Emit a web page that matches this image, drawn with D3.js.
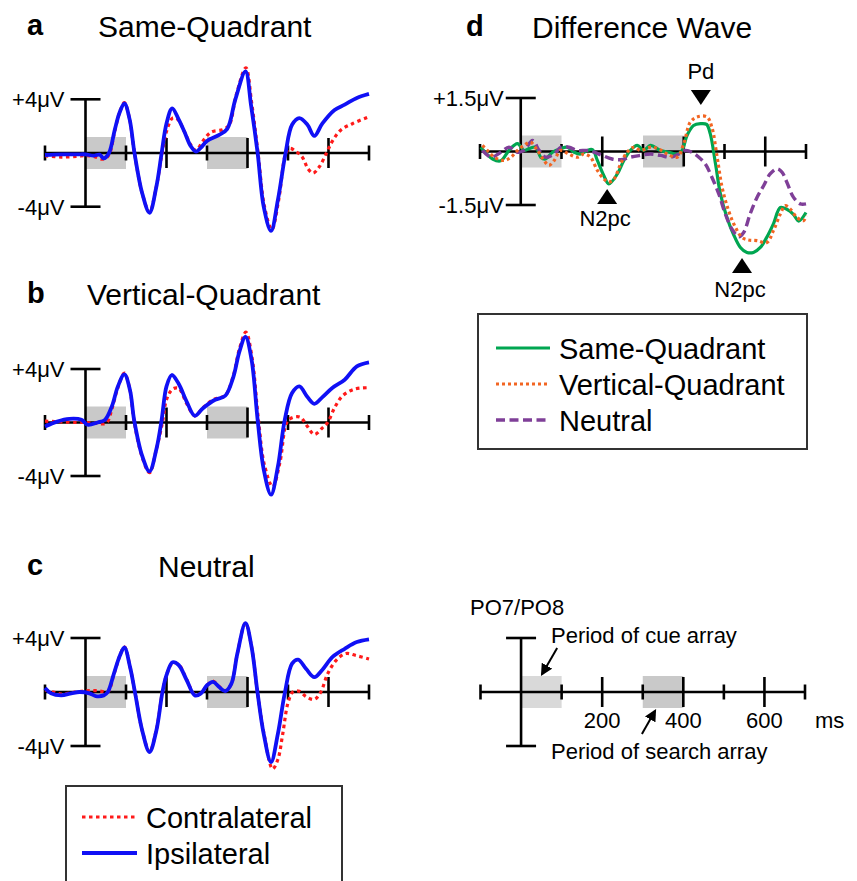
<!DOCTYPE html>
<html>
<head>
<meta charset="utf-8">
<script src="https://cdn.jsdelivr.net/npm/d3@7"></script>
<style>
  body { margin: 0; background: #fff; }
  svg { display: block; font-family: "Liberation Sans", Arial, sans-serif; }
</style>
</head>
<body>
<svg id="chart" width="857" height="881"></svg>
<script>
// time axis (ms) and windows
var msTicks = [-100, 0, 100, 200, 300, 400, 500, 600, 700];
var bigTicks = [200, 400, 600];
var tickLabels = ["200", "400", "600"];
var cueWindow = [0, 100];
var searchWindow = [300, 400];

// [ms, microvolts]
var aContra = [[-100,-0.2],[-60,-0.3],[-20,-0.25],[0,-0.2],[20,-0.25],[40,-0.45],[50,-0.4],[60,0],[72,1.6],[84,3.0],[96,3.75],[109,2.5],[121,0],[140,-3.0],[158,-4.4],[175,-2.5],[188,-0.2],[200,1.6],[215,2.6],[228,2.5],[244,1.6],[260,0.6],[273,0.2],[290,0.9],[310,1.55],[340,1.75],[355,2.1],[372,4.3],[396,6.35],[410,3.8],[426,0],[442,-4.0],[460,-5.7],[477,-3.5],[495,0],[505,0.35],[520,0.1],[535,-0.3],[550,-1.2],[562,-1.5],[578,-1.0],[595,0],[610,0.9],[630,1.7],[660,2.2],[700,2.7]];
var aIpsi = [[-100,-0.15],[-60,-0.1],[-20,-0.1],[0,-0.1],[20,-0.2],[35,-0.12],[45,-0.4],[58,0],[72,1.7],[84,3.0],[96,3.7],[109,2.5],[121,0],[140,-3.0],[158,-4.45],[175,-2.5],[188,0],[200,2.2],[214,3.33],[230,2.5],[244,1.6],[260,0.5],[273,0.1],[285,0.4],[300,0.9],[330,1.35],[350,1.8],[370,4.0],[395,6.07],[409,3.5],[425,0],[440,-4.0],[458,-5.8],[475,-3.5],[494,0],[510,2.1],[528,2.6],[548,2.1],[565,1.27],[585,2.2],[615,3.2],[640,3.6],[670,4.1],[700,4.4]];

var bContra = [[-100,0.1],[-60,0.05],[-20,0],[0,0],[25,-0.05],[45,-0.1],[55,0.1],[65,1.0],[80,2.6],[96,3.7],[110,2.4],[120,0.1],[140,-2.6],[158,-3.75],[175,-2.0],[190,0],[200,1.7],[215,2.5],[230,2.55],[250,1.4],[270,0.5],[290,1.1],[315,1.7],[330,1.85],[345,2.0],[365,3.5],[380,5.5],[396,6.75],[411,4.9],[427,0.2],[442,-3.2],[462,-4.8],[480,-3.0],[497,0],[510,0.35],[530,0.4],[548,-0.3],[565,-0.9],[585,-0.4],[598,0],[615,1.1],[635,2.0],[665,2.5],[700,2.6]];
var bIpsi = [[-100,-0.3],[-70,0.07],[-40,0.27],[-10,0.2],[5,-0.17],[30,0],[48,0.2],[65,1.2],[80,2.7],[96,3.6],[110,2.4],[120,0.2],[140,-2.5],[158,-3.65],[175,-2.0],[188,0.2],[200,2.7],[213,3.55],[230,2.9],[250,1.55],[270,0.5],[290,1.07],[320,1.7],[345,2.0],[365,3.4],[380,5.3],[395,6.4],[410,4.7],[425,0.2],[440,-3.5],[458,-5.4],[475,-3.3],[492,0.2],[510,2.2],[528,2.7],[548,1.9],[565,1.4],[585,1.9],[610,2.6],[640,3.2],[670,4.2],[700,4.5]];

var cContra = [[-100,0.15],[-80,0],[-60,-0.15],[-35,-0.05],[-10,0.05],[10,0.1],[25,0.1],[40,0.05],[55,0],[70,1.3],[85,2.7],[96,3.35],[110,1.85],[122,0],[140,-2.85],[158,-4.4],[175,-2.8],[190,0],[200,1.25],[215,2.15],[230,2.05],[250,0.9],[270,-0.2],[285,-0.1],[300,0.5],[315,0.8],[330,0.4],[345,0.1],[360,0.6],[375,2.85],[395,5.1],[410,3.35],[425,-0.1],[442,-3.3],[462,-5.7],[475,-5.0],[487,-3.1],[500,-0.8],[512,0],[528,0.05],[545,-0.35],[565,-0.55],[581,0],[598,1.35],[619,2.35],[643,2.85],[668,2.7],[700,2.45]];
var cIpsi = [[-100,0.3],[-85,-0.1],[-60,-0.25],[-35,-0.1],[-15,0],[10,-0.1],[25,-0.3],[45,-0.25],[55,0],[70,1.35],[85,2.7],[96,3.3],[110,1.85],[122,0],[140,-2.85],[158,-4.45],[175,-2.85],[190,0],[200,1.25],[215,2.2],[230,2.0],[250,0.87],[270,-0.25],[285,-0.1],[300,0.5],[315,0.75],[330,0.37],[345,0.07],[360,0.6],[375,2.85],[395,5.1],[410,3.35],[425,-0.1],[440,-3.1],[458,-5.2],[475,-3.1],[492,-0.1],[510,2.1],[525,2.4],[545,1.7],[565,1.1],[585,1.65],[610,2.6],[640,3.2],[670,3.7],[700,3.9]];

var dSame = [[-98,0.12],[-69,-0.21],[-49,-0.26],[-29,0.03],[-8,0.22],[8,0.03],[20,0.08],[37,0.12],[49,-0.16],[61,-0.21],[78,-0.02],[98,0.08],[114,0.12],[131,-0.02],[147,-0.07],[163,0.03],[176,0.05],[188,-0.25],[204,-0.68],[216,-0.91],[237,-0.63],[253,-0.25],[269,0.03],[286,0.17],[302,0.03],[318,0.17],[343,0.03],[363,-0.02],[384,-0.07],[396,0.03],[408,0.45],[424,0.73],[441,0.78],[456,0.76],[465,0.5],[478,-0.35],[490,-1.19],[506,-1.85],[522,-2.32],[539,-2.69],[555,-2.83],[571,-2.83],[588,-2.69],[604,-2.4],[620,-2.03],[637,-1.57],[653,-1.62],[669,-1.76],[682,-1.95],[700,-1.71]];
var dVertical = [[-94,0.17],[-82,0.03],[-65,-0.16],[-41,-0.25],[-24,-0.16],[-8,0.03],[8,0.17],[24,0.26],[41,0.03],[57,-0.25],[69,-0.39],[82,-0.25],[98,0.03],[118,-0.07],[139,-0.16],[155,-0.07],[171,-0.16],[188,-0.53],[204,-0.77],[216,-0.86],[229,-0.77],[245,-0.35],[261,-0.02],[278,0.12],[294,0.03],[318,0.12],[339,0.07],[359,-0.07],[384,-0.16],[400,0.22],[416,0.82],[433,0.97],[457,0.97],[469,0.68],[482,-0.16],[494,-1.0],[510,-1.66],[527,-2.13],[543,-2.41],[559,-2.48],[580,-2.5],[604,-2.55],[620,-2.22],[637,-1.75],[649,-1.52],[661,-1.61],[678,-1.85],[694,-1.94],[700,-1.8]];
var dNeutral = [[-94,0.03],[-73,-0.16],[-49,-0.02],[-29,0.12],[-8,-0.02],[8,0.03],[29,0.31],[45,0.03],[61,-0.16],[82,-0.07],[98,0.12],[118,0.12],[139,0.03],[163,0.03],[180,-0.02],[200,-0.11],[224,-0.21],[245,-0.23],[269,-0.16],[294,-0.11],[318,-0.07],[343,-0.11],[367,-0.16],[388,-0.07],[404,0.03],[420,-0.02],[437,-0.16],[453,-0.35],[469,-0.72],[486,-1.19],[502,-1.75],[518,-2.17],[535,-2.39],[547,-2.27],[563,-1.75],[580,-1.28],[596,-0.96],[612,-0.63],[629,-0.49],[641,-0.58],[653,-0.86],[669,-1.28],[686,-1.47],[700,-1.47]];

// component markers on the difference wave (ms)
var pdTime = 442;
var n2pcTimes = [212, 543];

var svg = d3.select("#chart");

var styles = {
  contra: {color: "#ff1a1a", width: 3.2, dash: "3.5,3.5"},
  ipsi:   {color: "#1010f5", width: 3.8, dash: null},
  same:   {color: "#00a651", width: 3.2, dash: null},
  vert:   {color: "#f26522", width: 3.2, dash: "3,3"},
  neut:   {color: "#7f3f98", width: 3.4, dash: "9,4.5"}
};

function buildAxes(cfg) {
  var g = svg.append("g");
  var x = d3.scaleLinear().domain([-100, 700]).range([cfg.x0, cfg.x1]);
  var y = d3.scaleLinear().domain([-cfg.vmax, cfg.vmax]).range([cfg.yBot, cfg.yTop]);

  // gray windows
  g.selectAll("rect.win")
    .data([cueWindow, searchWindow])
    .enter().append("rect")
      .attr("class", "win")
      .attr("x", function(d){ return x(d[0]); })
      .attr("width", function(d){ return x(d[1]) - x(d[0]); })
      .attr("y", y(0) - 16)
      .attr("height", 32)
      .attr("fill", function(d, i){ return cfg.fills[i]; });

  // time axis
  g.append("line")
    .attr("x1", x(-100)).attr("x2", x(700))
    .attr("y1", y(0)).attr("y2", y(0))
    .attr("stroke", "#000").attr("stroke-width", 2.6);

  g.selectAll("line.tick")
    .data(msTicks.filter(function(t){ return t !== 0; }))
    .enter().append("line")
      .attr("class", "tick")
      .attr("x1", function(d){ return x(d); })
      .attr("x2", function(d){ return x(d); })
      .attr("y1", function(d){ return y(0) - (bigTicks.indexOf(d) >= 0 ? 15 : 7.5); })
      .attr("y2", function(d){ return y(0) + (bigTicks.indexOf(d) >= 0 ? 15 : 7.5); })
      .attr("stroke", "#000").attr("stroke-width", 2.6);

  // voltage bar
  g.append("line")
    .attr("x1", x(0)).attr("x2", x(0))
    .attr("y1", y(cfg.vmax)).attr("y2", y(-cfg.vmax))
    .attr("stroke", "#000").attr("stroke-width", 2.6);
  [cfg.vmax, -cfg.vmax].forEach(function(v){
    g.append("line")
      .attr("x1", x(0) - 15).attr("x2", x(0) + 15)
      .attr("y1", y(v)).attr("y2", y(v))
      .attr("stroke", "#000").attr("stroke-width", 2.6);
  });

  if (cfg.labels) {
    g.selectAll("text.vlab")
      .data([[cfg.vmax, cfg.labels[0]], [-cfg.vmax, cfg.labels[1]]])
      .enter().append("text")
        .attr("x", x(0) - cfg.labelGap)
        .attr("y", function(d){ return y(d[0]) + 8; })
        .attr("text-anchor", "end")
        .attr("font-size", 22)
        .text(function(d){ return d[1]; });
  }
  return {g: g, x: x, y: y};
}

function drawWave(ax, data, st) {
  var line = d3.line()
    .x(function(d){ return ax.x(d[0]); })
    .y(function(d){ return ax.y(d[1]); })
    .curve(d3.curveCatmullRom.alpha(0.5));
  ax.g.append("path")
    .datum(data)
    .attr("d", line)
    .attr("fill", "none")
    .attr("stroke", st.color)
    .attr("stroke-width", st.width)
    .attr("stroke-linejoin", "round")
    .attr("stroke-dasharray", st.dash);
}

function title(letter, name, lx, nx, by) {
  svg.append("text").attr("x", lx).attr("y", by - 2)
    .attr("font-size", 29).attr("font-weight", "bold").text(letter);
  svg.append("text").attr("x", nx).attr("y", by)
    .attr("font-size", 30).text(name);
}

title("a", "Same-Quadrant", 27, 98, 37);
title("b", "Vertical-Quadrant", 27, 87, 305);
title("c", "Neutral", 27, 158, 577);
title("d", "Difference Wave", 466, 532, 38);

var grayFills = ["#c9c9c9", "#c9c9c9"];
var panelA = buildAxes({x0: 45, x1: 369, yTop: 99.3, yBot: 206.7, vmax: 4, fills: grayFills, labels: ["+4\u03bcV", "-4\u03bcV"], labelGap: 21});
drawWave(panelA, aContra, styles.contra);
drawWave(panelA, aIpsi, styles.ipsi);

var panelB = buildAxes({x0: 45, x1: 369, yTop: 369, yBot: 476, vmax: 4, fills: grayFills, labels: ["+4\u03bcV", "-4\u03bcV"], labelGap: 21});
drawWave(panelB, bContra, styles.contra);
drawWave(panelB, bIpsi, styles.ipsi);

var panelC = buildAxes({x0: 45, x1: 369, yTop: 638, yBot: 746, vmax: 4, fills: grayFills, labels: ["+4\u03bcV", "-4\u03bcV"], labelGap: 21});
drawWave(panelC, cContra, styles.contra);
drawWave(panelC, cIpsi, styles.ipsi);

var panelD = buildAxes({x0: 480, x1: 806, yTop: 98, yBot: 205, vmax: 1.5, fills: ["#d0d0d0", "#c9c9c9"], labels: ["+1.5\u03bcV", "-1.5\u03bcV"], labelGap: 17});
drawWave(panelD, dSame, styles.same);
drawWave(panelD, dNeutral, styles.neut);
drawWave(panelD, dVertical, styles.vert);

// Pd / N2pc markers
function triangle(cx, tipY, down) {
  var h = 15, w = 10;
  var baseY = down ? tipY - h : tipY + h;
  return "M" + (cx - w) + "," + baseY + "L" + (cx + w) + "," + baseY + "L" + cx + "," + tipY + "Z";
}
var pdX = panelD.x(pdTime);
svg.append("path").attr("d", triangle(pdX, 105, true)).attr("fill", "#000");
svg.append("text").attr("x", pdX).attr("y", 79).attr("text-anchor", "middle")
  .attr("font-size", 22).text("Pd");
[[n2pcTimes[0], 189, 226], [n2pcTimes[1], 258, 297]].forEach(function(m){
  var cx = panelD.x(m[0]);
  svg.append("path").attr("d", triangle(cx, m[1], false)).attr("fill", "#000");
  svg.append("text").attr("x", cx - 2).attr("y", m[2]).attr("text-anchor", "middle")
    .attr("font-size", 22).text("N2pc");
});

// schematic axis
var panelS = buildAxes({x0: 480.5, x1: 805, yTop: 638, yBot: 746, vmax: 4, fills: ["#d9d9d9", "#c9c9c9"], labels: null});
panelS.g.selectAll("text.tl")
  .data(bigTicks)
  .enter().append("text")
    .attr("x", function(d){ return panelS.x(d); })
    .attr("y", 728)
    .attr("text-anchor", "middle")
    .attr("font-size", 22)
    .text(function(d, i){ return tickLabels[i]; });
svg.append("text").attr("x", 815).attr("y", 728).attr("font-size", 22).text("ms");
svg.append("text").attr("x", 470).attr("y", 615).attr("font-size", 22).text("PO7/PO8");
svg.append("text").attr("x", 551).attr("y", 643).attr("font-size", 22).text("Period of cue array");
svg.append("text").attr("x", 551).attr("y", 759).attr("font-size", 22).text("Period of search array");

svg.append("defs").append("marker")
    .attr("id", "head")
    .attr("viewBox", "0 -5 10 10")
    .attr("refX", 8).attr("refY", 0)
    .attr("markerWidth", 12).attr("markerHeight", 12)
    .attr("markerUnits", "userSpaceOnUse")
    .attr("orient", "auto")
  .append("path").attr("d", "M0,-5L10,0L0,5Z").attr("fill", "#000");

var s0 = panelS.y(0);
var cueTip = [panelS.x(52), s0 - 18], searchTip = [panelS.x(330), s0 + 19];
svg.append("line")
  .attr("x1", cueTip[0] + 15).attr("y1", cueTip[1] - 26)
  .attr("x2", cueTip[0]).attr("y2", cueTip[1])
  .attr("stroke", "#000").attr("stroke-width", 2).attr("marker-end", "url(#head)");
svg.append("line")
  .attr("x1", searchTip[0] - 13).attr("y1", searchTip[1] + 23)
  .attr("x2", searchTip[0]).attr("y2", searchTip[1])
  .attr("stroke", "#000").attr("stroke-width", 2).attr("marker-end", "url(#head)");

// legends
function legend(x0, y0, w, h, items, lineX, textX, firstBase, step) {
  svg.append("rect").attr("x", x0).attr("y", y0).attr("width", w).attr("height", h)
    .attr("fill", "none").attr("stroke", "#333").attr("stroke-width", 2);
  items.forEach(function(it, i){
    var by = firstBase + i * step;
    svg.append("line")
      .attr("x1", lineX[0]).attr("x2", lineX[1])
      .attr("y1", by - 11).attr("y2", by - 11)
      .attr("stroke", it.st.color).attr("stroke-width", it.st.width)
      .attr("stroke-dasharray", it.st.dash);
    svg.append("text").attr("x", textX).attr("y", by).attr("font-size", 29).text(it.name);
  });
}
legend(478, 314, 329, 135,
  [{name: "Same-Quadrant", st: styles.same}, {name: "Vertical-Quadrant", st: styles.vert}, {name: "Neutral", st: styles.neut}],
  [496, 550], 559, 359, 36);
legend(66, 786, 276, 120,
  [{name: "Contralateral", st: styles.contra}, {name: "Ipsilateral", st: styles.ipsi}],
  [82, 137], 146, 828, 36);
</script>
</body>
</html>
